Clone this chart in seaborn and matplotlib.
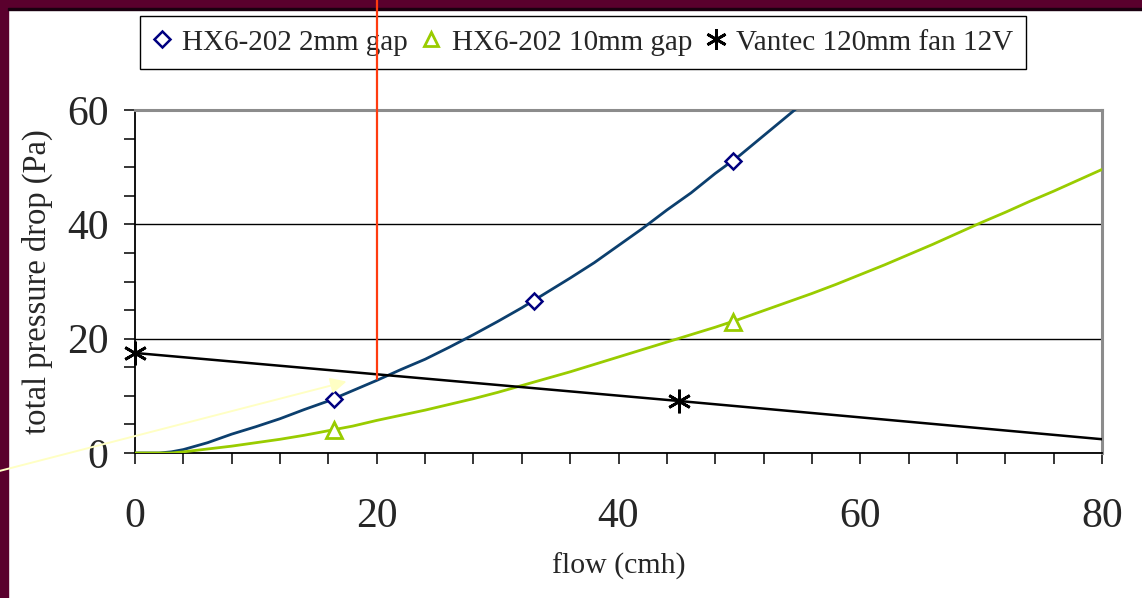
import matplotlib
matplotlib.use("Agg")
import matplotlib.pyplot as plt
from matplotlib.lines import Line2D
from matplotlib.patches import Rectangle
from matplotlib.ticker import MultipleLocator
import seaborn as sns

# HX6-202 with 2 mm gap (line)
gap2_flow = [0, 2, 3, 4, 6, 8, 10, 12, 14, 16, 18, 20, 22, 24, 26, 28, 30,
             32, 34, 36, 38, 40, 42, 44, 46, 48, 50, 52, 54, 56]
gap2_dp = [0.0, 0.0, 0.2, 0.6, 1.8, 3.3, 4.6, 6.0, 7.6, 9.1, 10.9, 12.7, 14.6,
           16.4, 18.5, 20.7, 23.0, 25.4, 28.0, 30.6, 33.3, 36.3, 39.3, 42.5,
           45.5, 48.9, 52.0, 55.5, 59.0, 62.5]
gap2_mark_flow = [16.5, 33.0, 49.5]
gap2_mark_dp = [9.5, 26.6, 51.1]

# HX6-202 with 10 mm gap
gap10_flow = [0, 3, 4, 6, 8, 10, 12, 14, 16, 18, 20, 22, 24, 26, 28, 30, 32,
              34, 36, 38, 40, 42, 44, 46, 48, 50, 52, 54, 56, 58, 60, 62, 64,
              66, 68, 70, 72, 74, 76, 78, 80]
gap10_dp = [0.0, 0.0, 0.2, 0.7, 1.2, 1.8, 2.4, 3.1, 3.9, 4.7, 5.7, 6.6, 7.5,
            8.5, 9.5, 10.6, 11.8, 13.0, 14.2, 15.5, 16.8, 18.1, 19.4, 20.7,
            22.0, 23.4, 24.9, 26.4, 27.9, 29.5, 31.2, 32.9, 34.7, 36.5, 38.4,
            40.3, 42.1, 44.0, 45.8, 47.7, 49.6]
gap10_mark_flow = [16.5, 49.5]
gap10_mark_dp = [4.1, 23.0]

# Vantec 120mm fan at 12V
fan_flow = [0, 45, 90]
fan_dp = [17.5, 9.1, 0.5]

# operating point of 2mm gap + fan
op_flow = 20
op_dp = 12.9

labels = ["HX6-202 2mm gap", "HX6-202 10mm gap", "Vantec 120mm fan 12V"]
blue, navy, green = "#0c3f6e", "#000080", "#99cc00"

W, H = 1142, 598
sns.set_style("white")
plt.rcParams["font.family"] = ["Liberation Serif", "DejaVu Serif"]

fig = plt.figure(figsize=(W / 100, H / 100), dpi=100)
ax = fig.add_axes([135 / W, 1 - 453 / H, (1102 - 135) / W, (453 - 110) / H])

# slide border
fig.add_artist(Rectangle((0, 0), 8 / W, 1, transform=fig.transFigure,
                         color="#5a002d", zorder=-5))
fig.add_artist(Rectangle((0, 1 - 9 / H), 1, 9 / H, transform=fig.transFigure,
                         color="#5a002d", zorder=-5))
fig.add_artist(Rectangle((8 / W, 1 - 10 / H), 1, 1.5 / H, transform=fig.transFigure,
                         color="#1a0010", zorder=-4))

sns.lineplot(x=gap2_flow, y=gap2_dp, ax=ax, color=blue, lw=2, zorder=3)
sns.lineplot(x=gap10_flow, y=gap10_dp, ax=ax, color=green, lw=2, zorder=3)
sns.lineplot(x=fan_flow, y=fan_dp, ax=ax, color="black", lw=1.8, zorder=3)

ax.plot(gap2_mark_flow, gap2_mark_dp, ls="none", marker="D", ms=8.5, mew=1.8,
        mec=navy, mfc="white", zorder=4)
ax.plot(gap10_mark_flow, gap10_mark_dp, ls="none", marker="^", ms=11, mew=2,
        mec=green, mfc="white", zorder=4)
fan_marks = ax.plot(fan_flow[:2], fan_dp[:2], ls="none", marker=(6, 2, 0),
                    ms=17, mew=2, mec="black", zorder=4, clip_on=False)

ax.set_xlim(0, 80)
ax.set_ylim(0, 60)
ax.xaxis.set_major_locator(MultipleLocator(20))
ax.xaxis.set_minor_locator(MultipleLocator(4))
ax.yaxis.set_major_locator(MultipleLocator(20))
ax.yaxis.set_minor_locator(MultipleLocator(5))
ax.tick_params(which="both", direction="out", length=8, width=1.1, color="black")
ax.tick_params(axis="x", which="major", labelsize=30, pad=24)
ax.tick_params(axis="y", which="major", labelsize=30, pad=11)
ax.tick_params(bottom=True, left=True, which="both")
ax.yaxis.grid(True, which="major", color="black", lw=1)
ax.xaxis.grid(False)
for side in ["left", "bottom"]:
    ax.spines[side].set_color("black")
    ax.spines[side].set_linewidth(1.3)
for side in ["top", "right"]:
    ax.spines[side].set_color("#8c8c8c")
    ax.spines[side].set_linewidth(2.2)

ax.set_xlabel("flow (cmh)", fontsize=21.5, labelpad=12)
ax.set_ylabel("total pressure drop (Pa)", fontsize=23.5, labelpad=10)

# fan curve meets the 2mm gap curve here
ax.plot([op_flow, op_flow], [op_dp, 80], color="#ff3b0f", lw=1.6,
        clip_on=False, zorder=10)
ax.annotate("", xy=(17.5, 12.5), xytext=(-11.5, -3.3),
            arrowprops=dict(arrowstyle="-|>", color="#ffffc4", lw=1.4,
                            mutation_scale=24, shrinkA=0, shrinkB=0),
            annotation_clip=False, zorder=9)

handles = [
    Line2D([], [], ls="none", marker="D", ms=8, mew=1.8, mec=navy, mfc="white"),
    Line2D([], [], ls="none", marker="^", ms=10, mew=2, mec=green, mfc="white"),
    Line2D([], [], ls="none", marker=(6, 2, 0), ms=15, mew=2, mec="black"),
]
leg = ax.legend(handles, labels, loc="upper left", ncol=3,
                bbox_to_anchor=(140 / W, 1 - 16 / H), bbox_transform=fig.transFigure,
                frameon=True, fancybox=False, edgecolor="black", framealpha=1,
                borderaxespad=0, fontsize=21, handlelength=0.6,
                handletextpad=0.4, columnspacing=0.5, borderpad=0.45)
leg.get_frame().set_linewidth(1.0)
leg.set_zorder(8)

fig.savefig("out.png", dpi=100)
